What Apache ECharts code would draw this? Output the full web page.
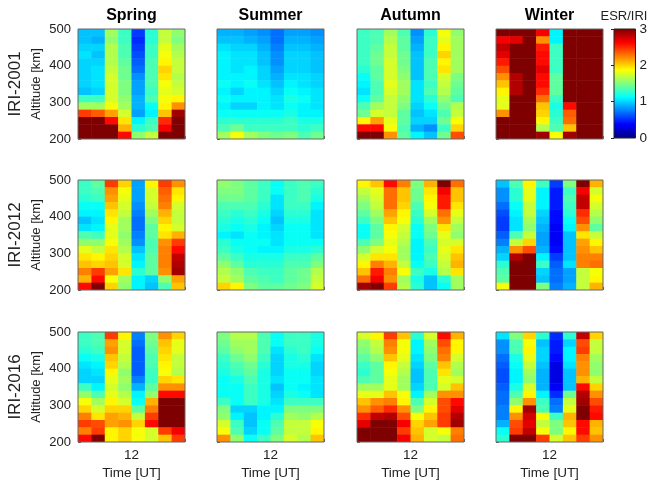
<!DOCTYPE html>
<html><head><meta charset="utf-8">
<script src="https://cdn.jsdelivr.net/npm/echarts@6/dist/echarts.min.js"></script>
<style>html,body{margin:0;padding:0;background:#fff}#c{width:650px;height:487px}</style>
</head><body><div id="c"></div><script>
const seasons = ['Spring', 'Summer', 'Autumn', 'Winter'];
const models = ['IRI-2001', 'IRI-2012', 'IRI-2016'];
const hours = [1.5, 4.5, 7.5, 10.5, 13.5, 16.5, 19.5, 22.5];
const altitudes = [490, 470, 450, 430, 410, 390, 370, 350, 330, 310, 290, 270, 250, 230, 210];
const yTicks = [200, 300, 400, 500];
const xTickLabels = ['12'];
const colorbarTicks = [0, 1, 2, 3];

// rows listed from top (490 km) to bottom (210 km), 8 time bins each
const iri2001Spring = [
[0.95,0.95,1.6,1.3,0.55,1.25,1.7,1.55],
[0.95,0.9,1.55,1.3,0.5,1.25,1.7,1.5],
[1.0,1.0,1.65,1.35,0.55,1.3,1.8,1.6],
[1.05,0.95,1.65,1.35,0.6,1.3,1.85,1.65],
[1.0,1.0,1.65,1.4,0.65,1.35,1.9,1.7],
[1.0,1.05,1.7,1.45,0.7,1.35,2.0,1.7],
[1.0,1.05,1.75,1.45,0.8,1.35,1.95,1.65],
[1.0,1.05,1.75,1.5,0.85,1.35,1.85,1.7],
[0.95,1.0,1.75,1.5,0.85,1.3,1.8,1.75],
[1.3,1.3,1.75,1.55,0.9,1.35,1.85,1.9],
[1.6,1.6,1.85,1.6,0.9,1.15,1.9,2.2],
[2.45,2.35,2.15,1.75,0.85,1.1,2.05,2.9],
[3,3,2.6,1.95,1.1,1.3,2.5,3],
[3,3,3,2.1,1.25,1.35,2.65,3],
[3,3,3,2.6,1.55,1.7,3,3]];
const iri2001Summer = [
[0.9,0.9,0.85,0.8,0.7,0.85,0.85,0.8],
[0.95,0.95,0.9,0.85,0.7,0.9,0.9,0.85],
[1.05,1.0,1.0,0.9,0.75,0.95,0.95,0.9],
[1.1,1.05,1.05,0.95,0.8,1.0,1.0,0.95],
[1.1,1.05,1.05,0.95,0.8,1.0,1.0,0.95],
[1.1,1.05,1.1,1.0,0.85,1.0,1.0,0.95],
[1.1,1.1,1.1,1.0,0.9,1.05,1.05,1.0],
[1.15,1.1,1.15,1.05,0.95,1.1,1.05,1.0],
[1.1,1.0,1.1,1.1,1.0,1.15,1.1,1.05],
[1.15,1.1,1.1,1.1,1.05,1.2,1.15,1.05],
[1.1,1.0,1.0,1.1,1.05,1.15,1.1,1.05],
[1.15,1.15,1.15,1.15,1.15,1.2,1.1,1.1],
[1.25,1.25,1.25,1.25,1.25,1.3,1.2,1.2],
[1.35,1.45,1.3,1.3,1.3,1.3,1.25,1.3],
[1.6,1.85,1.6,1.5,1.45,1.5,1.35,1.45]];
const iri2001Autumn = [
[1.3,1.35,1.6,1.35,0.8,1.25,1.85,1.55],
[1.3,1.35,1.65,1.4,0.85,1.3,1.8,1.6],
[1.3,1.4,1.7,1.4,0.9,1.3,1.9,1.6],
[1.3,1.45,1.7,1.45,0.95,1.3,2.0,1.6],
[1.3,1.45,1.75,1.45,0.95,1.35,1.9,1.6],
[1.25,1.4,1.75,1.5,0.95,1.35,1.95,1.6],
[1.15,1.4,1.75,1.55,0.95,1.35,1.75,1.5],
[1.1,1.35,1.8,1.6,1.05,1.3,1.7,1.45],
[1.05,1.35,1.75,1.6,1.05,1.35,1.65,1.4],
[1.15,1.4,1.7,1.55,1.05,1.25,1.55,1.35],
[1.35,1.6,1.7,1.5,1.0,1.15,1.45,1.65],
[1.45,1.75,1.7,1.4,0.95,1.05,1.35,1.7],
[1.9,2.15,1.8,1.4,1.0,1.0,1.45,1.85],
[2.6,2.6,1.85,1.35,0.9,0.8,1.3,2.0],
[3,3,2.2,1.4,1.1,0.95,1.45,2.4]];
const iri2001Winter = [
[3,3,3,2.65,1.1,3,3,3],
[2.65,2.7,3,2.2,1.1,3,3,3],
[2.8,3,3,2.55,1.3,3,3,3],
[2.7,3,3,2.6,1.3,3,3,3],
[2.55,3,3,2.6,1.3,3,3,3],
[2.4,3,3,2.7,1.3,3,3,3],
[2.2,2.85,3,2.6,1.4,3,3,3],
[2.05,2.85,3,2.6,1.4,3,3,3],
[1.9,2.85,3,2.5,1.4,3,3,3],
[1.8,3,3,2.3,1.3,3,3,3],
[1.8,3,3,2.05,1.2,2.6,3,3],
[2.2,3,3,2.0,1.25,2.35,3,3],
[3,3,3,1.9,1.3,2.3,3,3],
[3,3,3,1.65,1.35,2.05,3,3],
[3,3,3,2.9,1.85,2.9,3,3]];
const iri2012Spring = [
[1.3,1.4,2.45,2.0,0.85,1.9,2.45,2.2],
[1.3,1.35,2.2,1.85,0.85,1.75,2.35,1.95],
[1.25,1.3,2.15,1.8,0.85,1.75,2.3,1.9],
[1.15,1.15,2.05,1.75,0.8,1.7,2.25,1.75],
[1.1,1.1,1.95,1.7,0.75,1.6,2.1,1.7],
[0.95,1.05,1.9,1.6,0.7,1.5,2.0,1.7],
[1.05,1.1,1.8,1.6,0.7,1.4,1.9,1.75],
[1.35,1.3,1.8,1.55,0.75,1.4,1.95,2.1],
[1.55,1.55,1.85,1.6,0.8,1.35,2.2,2.45],
[1.8,1.7,1.95,1.65,0.95,1.35,2.25,2.6],
[1.95,1.9,2.0,1.75,1.05,1.4,2.25,2.8],
[2.05,2.0,2.05,1.75,1.1,1.4,2.25,2.85],
[2.25,2.45,2.15,1.95,1.25,1.4,2.2,2.9],
[2.1,2.6,1.85,1.6,1.1,1.0,1.55,2.15],
[2.6,3.0,2.0,1.55,1.1,0.95,1.35,2.05]];
const iri2012Summer = [
[1.55,1.5,1.4,1.3,1.15,1.3,1.35,1.3],
[1.5,1.5,1.4,1.3,1.15,1.3,1.35,1.25],
[1.45,1.45,1.4,1.3,1.05,1.3,1.35,1.2],
[1.35,1.35,1.35,1.25,1.05,1.3,1.3,1.1],
[1.3,1.25,1.3,1.2,1.0,1.25,1.25,1.05],
[1.25,1.2,1.25,1.15,0.95,1.2,1.2,1.05],
[1.2,1.15,1.2,1.1,1.0,1.15,1.15,1.05],
[1.1,1.05,1.15,1.1,1.05,1.15,1.15,1.05],
[1.25,1.15,1.15,1.15,1.05,1.15,1.15,1.15],
[1.3,1.2,1.15,1.1,1.1,1.2,1.2,1.25],
[1.4,1.3,1.2,1.2,1.2,1.3,1.3,1.4],
[1.55,1.4,1.25,1.25,1.25,1.35,1.35,1.5],
[1.65,1.55,1.35,1.3,1.3,1.4,1.45,1.65],
[1.7,1.6,1.4,1.35,1.3,1.4,1.45,1.7],
[2.0,1.9,1.5,1.4,1.4,1.45,1.5,1.75]];
const iri2012Autumn = [
[1.9,2.05,2.6,2.25,1.5,2.1,3.0,2.3],
[1.7,1.8,2.3,2.05,1.45,1.95,2.65,2.05],
[1.6,1.75,2.3,2.05,1.45,1.9,2.55,2.05],
[1.5,1.7,2.3,2.0,1.35,1.85,2.55,1.95],
[1.4,1.6,2.15,1.9,1.3,1.75,2.3,1.8],
[1.3,1.5,2.05,1.85,1.25,1.6,2.2,1.7],
[1.15,1.4,1.9,1.75,1.15,1.5,1.95,1.6],
[1.15,1.4,1.85,1.7,1.15,1.45,1.8,1.55],
[1.35,1.5,1.8,1.65,1.1,1.35,1.75,1.75],
[1.55,1.75,1.85,1.6,1.1,1.3,1.8,1.95],
[1.75,1.95,1.95,1.6,1.1,1.35,1.75,2.05],
[1.9,2.25,2.1,1.7,1.15,1.3,1.7,2.1],
[2.05,2.55,2.25,1.85,1.3,1.2,1.65,1.95],
[2.3,2.65,2.2,1.6,1.2,0.95,1.25,1.6],
[2.9,3.0,2.45,1.65,1.25,0.95,1.15,1.6]];
const iri2012Winter = [
[0.95,1.35,1.9,1.3,0.55,1.5,3.0,2.1],
[0.8,1.25,1.8,1.1,0.45,1.3,2.65,1.75],
[0.8,1.25,1.8,1.1,0.45,1.35,2.8,1.85],
[0.7,1.15,1.7,1.1,0.45,1.3,2.8,1.75],
[0.6,1.1,1.7,1.0,0.4,1.25,2.5,1.65],
[0.55,1.05,1.6,0.95,0.4,1.15,2.4,1.55],
[0.55,1.05,1.55,0.9,0.35,1.1,2.2,1.4],
[0.65,1.35,1.7,0.85,0.35,0.95,1.95,1.7],
[0.75,1.7,2.0,0.85,0.35,0.95,2.15,1.9],
[0.9,2.2,2.4,0.9,0.4,0.95,2.2,2.05],
[1.0,2.85,3.0,1.1,0.55,0.95,2.25,2.25],
[1.25,3.0,3.0,1.3,0.65,1.05,2.25,2.3],
[1.35,3.0,3.0,1.0,0.7,0.85,1.7,1.85],
[1.4,3.0,3.0,0.95,0.7,0.85,1.7,1.9],
[1.85,3.0,3.0,1.5,0.75,0.9,1.7,2.1]];
const iri2016Spring = [
[1.3,1.35,2.45,1.9,0.75,1.5,2.2,2.0],
[1.3,1.35,2.15,1.75,0.7,1.45,2.05,1.8],
[1.25,1.3,2.2,1.75,0.65,1.4,2.0,1.8],
[1.15,1.2,2.05,1.7,0.65,1.35,1.95,1.7],
[1.05,1.1,2.0,1.65,0.65,1.35,1.9,1.7],
[1.0,1.05,1.9,1.55,0.65,1.3,1.85,1.65],
[1.0,1.0,1.8,1.6,0.75,1.3,2.0,1.95],
[1.3,1.1,1.75,1.55,0.9,1.4,2.2,2.2],
[1.55,1.35,1.8,1.65,1.1,1.55,2.6,2.6],
[1.85,1.6,1.9,1.75,1.15,2.1,3.0,3.0],
[2.0,1.75,2.0,2.0,1.4,2.25,3.0,3.0],
[2.25,1.95,2.15,2.1,1.7,2.45,3.0,3.0],
[2.45,2.4,2.15,2.2,2.0,2.6,3.0,3.0],
[2.25,2.45,1.9,2.0,1.85,1.75,2.45,2.65],
[2.6,3.0,1.9,2.0,1.85,1.75,2.05,2.45]];
const iri2016Summer = [
[1.5,1.65,1.65,1.35,1.15,1.3,1.3,1.2],
[1.45,1.6,1.6,1.35,1.15,1.3,1.3,1.2],
[1.4,1.55,1.6,1.35,1.05,1.25,1.3,1.15],
[1.3,1.45,1.55,1.3,1.0,1.2,1.25,1.05],
[1.25,1.35,1.45,1.25,1.0,1.2,1.2,1.0],
[1.2,1.3,1.4,1.2,1.0,1.15,1.15,1.0],
[1.15,1.2,1.35,1.2,1.05,1.15,1.15,1.05],
[1.15,1.15,1.3,1.2,0.95,1.15,1.1,1.05],
[1.15,1.15,1.3,1.2,1.0,1.2,1.15,1.05],
[1.3,1.15,1.3,1.2,1.05,1.3,1.3,1.3],
[1.5,1.0,1.0,1.1,1.1,1.5,1.5,1.5],
[1.55,1.1,0.95,1.1,1.25,1.6,1.55,1.65],
[1.75,1.3,0.95,1.15,1.35,1.7,1.7,1.85],
[1.85,1.35,1.0,1.15,1.4,1.7,1.7,1.9],
[2.2,1.55,1.15,1.3,1.5,1.75,1.65,2.05]];
const iri2016Autumn = [
[1.75,1.9,2.45,2.05,1.25,1.75,2.6,2.1],
[1.55,1.7,2.25,1.85,1.1,1.6,2.4,1.9],
[1.5,1.65,2.2,1.85,1.1,1.55,2.3,1.9],
[1.4,1.55,2.05,1.8,1.05,1.5,2.25,1.75],
[1.3,1.4,1.9,1.7,1.0,1.4,2.05,1.65],
[1.25,1.4,1.85,1.65,0.95,1.35,1.95,1.6],
[1.35,1.4,1.8,1.6,0.95,1.35,1.8,1.75],
[1.6,1.6,1.8,1.6,1.0,1.35,1.75,2.05],
[1.8,1.8,2.05,1.85,1.1,1.6,2.2,2.2],
[2.05,2.2,2.25,1.9,1.35,1.75,2.4,2.6],
[2.2,2.35,2.5,2.2,1.5,1.9,2.4,2.7],
[2.5,2.8,2.85,2.4,1.85,2.05,2.45,2.85],
[2.7,3.0,3.0,2.65,2.0,2.15,2.45,2.9],
[3.0,3.0,3.0,2.45,2.05,1.75,1.85,2.25],
[3.0,3.0,3.0,2.65,2.1,1.75,1.7,2.3]];
const iri2016Winter = [
[1.05,1.5,2.0,1.25,0.5,1.25,2.8,2.0],
[0.8,1.35,1.85,0.95,0.45,1.0,2.4,1.7],
[0.8,1.35,1.9,1.0,0.45,1.1,2.45,1.7],
[0.7,1.2,1.8,1.0,0.4,1.1,2.25,1.6],
[0.65,1.15,1.7,0.95,0.3,1.05,2.2,1.55],
[0.6,1.1,1.6,0.9,0.3,0.95,2.2,1.55],
[0.6,1.1,1.55,0.9,0.3,0.95,2.1,1.7],
[0.65,1.2,1.75,0.9,0.35,0.95,2.6,2.0],
[0.7,1.35,1.9,1.1,0.5,1.45,2.85,2.2],
[0.7,1.55,2.2,1.3,0.7,1.7,2.9,2.4],
[0.75,1.9,2.9,1.35,0.75,1.8,3.0,2.55],
[0.75,2.2,2.75,1.85,1.3,2.1,3.0,2.6],
[0.9,2.4,2.7,1.7,1.5,2.05,2.6,2.1],
[1.15,2.45,2.8,1.85,1.5,1.9,2.6,2.05],
[1.25,3.0,3.0,2.45,1.75,2.05,2.45,2.2]];

const panels = [
  [iri2001Spring, iri2001Summer, iri2001Autumn, iri2001Winter],
  [iri2012Spring, iri2012Summer, iri2012Autumn, iri2012Winter],
  [iri2016Spring, iri2016Summer, iri2016Autumn, iri2016Winter]
];

const jet = ['#00007F','#0000FF','#007FFF','#00FFFF','#7FFF7F','#FFFF00','#FF7F00','#FF0000','#7F0000'];
const FONT = '"Liberation Sans", Arial, Helvetica, sans-serif';
const colLeft = [78, 217, 357, 496];
const rowTop = [29, 180, 332];
const PW = 107, PH = 110;

const grids = [], xAxes = [], yAxes = [], series = [], graphics = [];

function cellRender(params, api) {
  const x = api.value(0), y = api.value(1);
  const p0 = api.coord([x - 1.5, y + 10]);
  const p1 = api.coord([x + 1.5, y - 10]);
  return {
    type: 'rect',
    shape: { x: p0[0], y: p0[1], width: p1[0] - p0[0] + 0.5, height: p1[1] - p0[1] + 0.5 },
    style: { fill: api.visual('color') }
  };
}

let idx = 0;
for (let r = 0; r < 3; r++) {
  for (let c = 0; c < 4; c++) {
    grids.push({ left: colLeft[c], top: rowTop[r], width: PW, height: PH, show: true, z: 5,
      borderColor: '#666', borderWidth: 1, backgroundColor: 'transparent' });
    xAxes.push({
      gridIndex: idx, type: 'value', min: 0, max: 24, interval: 12,
      axisLine: { show: false }, splitLine: { show: false },
      axisTick: { show: true, inside: true, length: 3, lineStyle: { color: '#666' } },
      axisLabel: { show: r === 2, fontSize: 13.5, color: '#222', fontFamily: FONT, margin: 6,
        formatter: v => xTickLabels.indexOf(String(v)) >= 0 ? String(v) : '' },
      name: r === 2 ? 'Time [UT]' : '', nameLocation: 'middle', nameGap: 24,
      nameTextStyle: { fontSize: 13.5, color: '#222', fontFamily: FONT }
    });
    yAxes.push({
      gridIndex: idx, type: 'value', min: yTicks[0], max: yTicks[yTicks.length - 1], interval: 100,
      axisLine: { show: false }, splitLine: { show: false },
      axisTick: { show: true, inside: true, length: 3, lineStyle: { color: '#666' } },
      axisLabel: { show: c === 0, fontSize: 13, color: '#222', fontFamily: FONT, margin: 7 }
    });
    const mat = panels[r][c];
    const data = [];
    for (let i = 0; i < altitudes.length; i++)
      for (let j = 0; j < hours.length; j++)
        data.push([hours[j], altitudes[i], mat[i][j]]);
    series.push({ type: 'custom', xAxisIndex: idx, yAxisIndex: idx, renderItem: cellRender,
      encode: { x: 0, y: 1 }, data: data, clip: true, silent: true });
    idx++;
  }
  graphics.push({ type: 'text', x: 15, y: rowTop[r] + PH / 2, rotation: Math.PI / 2,
    style: { text: models[r], font: '17px ' + FONT, fill: '#222', textAlign: 'center', textVerticalAlign: 'middle' } });
  graphics.push({ type: 'text', x: 36, y: rowTop[r] + PH / 2, rotation: Math.PI / 2,
    style: { text: 'Altitude [km]', font: '13px ' + FONT, fill: '#222', textAlign: 'center', textVerticalAlign: 'middle' } });
}
for (let c = 0; c < 4; c++) {
  graphics.push({ type: 'text', x: colLeft[c] + PW / 2, y: 16,
    style: { text: seasons[c], font: 'bold 16px ' + FONT, fill: '#000', textAlign: 'center', textVerticalAlign: 'middle' } });
}
graphics.push({ type: 'text', x: 624, y: 16,
  style: { text: 'ESR/IRI', font: '13px ' + FONT, fill: '#222', textAlign: 'center', textVerticalAlign: 'middle' } });

// colorbar
grids.push({ left: 614, top: 29, width: 22, height: 109, show: true, z: 5, borderColor: '#222', borderWidth: 1, backgroundColor: 'transparent' });
xAxes.push({ gridIndex: 12, type: 'value', min: 0, max: 1, show: false });
yAxes.push({ gridIndex: 12, type: 'value', position: 'right', min: colorbarTicks[0], max: colorbarTicks[colorbarTicks.length - 1], interval: 1,
  axisLine: { show: false }, splitLine: { show: false },
  axisTick: { show: true, inside: true, length: 3, lineStyle: { color: '#222' } },
  axisLabel: { fontSize: 13.5, color: '#222', fontFamily: FONT, margin: 4 } });
series.push({ type: 'custom', xAxisIndex: 12, yAxisIndex: 12, silent: true,
  data: [[0, colorbarTicks[0]]],
  renderItem: function (params, api) {
    const p0 = api.coord([0, colorbarTicks[colorbarTicks.length - 1]]);
    const p1 = api.coord([1, colorbarTicks[0]]);
    return { type: 'rect', shape: { x: p0[0], y: p0[1], width: p1[0] - p0[0], height: p1[1] - p0[1] },
      style: { fill: new echarts.graphic.LinearGradient(0, 1, 0, 0,
        jet.map((col, i) => ({ offset: i / (jet.length - 1), color: col }))) } };
  } });

const chart = echarts.init(document.getElementById('c'), null, { renderer: 'canvas' });
chart.setOption({
  animation: false,
  backgroundColor: '#fff',
  grid: grids, xAxis: xAxes, yAxis: yAxes,
  visualMap: { type: 'continuous', show: false, min: 0, max: 3, dimension: 2,
    seriesIndex: [0,1,2,3,4,5,6,7,8,9,10,11], inRange: { color: jet } },
  graphic: graphics,
  series: series
});
</script></body></html>
